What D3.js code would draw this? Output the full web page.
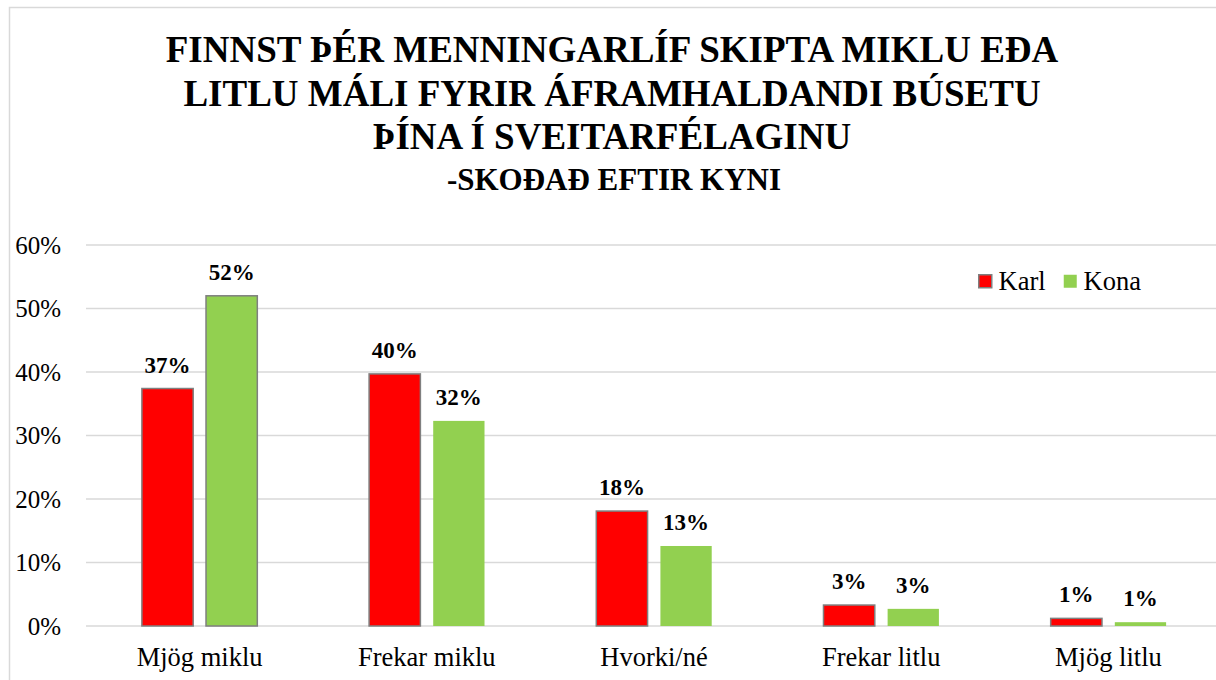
<!DOCTYPE html>
<html>
<head>
<meta charset="utf-8">
<script src="https://cdn.jsdelivr.net/npm/d3@7"></script>
<style>
  body { margin: 0; background: #fff; }
  text { font-family: 'Liberation Serif'; }
</style>
</head>
<body>
<svg id="chart" width="1216" height="680" style="font-family:'Liberation Serif'"></svg>
<script>
// answer categories and the share for each sex
var categories = ["Mjög miklu", "Frekar miklu", "Hvorki/né", "Frekar litlu", "Mjög litlu"];
var seriesNames = ["Karl", "Kona"];
var karl = [0.374, 0.397, 0.181, 0.033, 0.012];
var kona = [0.520, 0.323, 0.126, 0.027, 0.006];
var yTicks = [0, 0.1, 0.2, 0.3, 0.4, 0.5, 0.6];
var titleLines = [
  "FINNST ÞÉR MENNINGARLÍF SKIPTA MIKLU EÐA",
  "LITLU MÁLI FYRIR ÁFRAMHALDANDI BÚSETU",
  "ÞÍNA Í SVEITARFÉLAGINU"
];
var subTitle = "-SKOÐAÐ EFTIR KYNI";

var width = 1216,
    height = 680,
    margin = {top: 245, right: -6, bottom: 54, left: 86};

var serif = "'Liberation Serif'";
var colors = {Karl: "#ff0000", Kona: "#92d050"};

var data = categories.map((c, i) => ({cat: c, Karl: karl[i], Kona: kona[i]}));

var svg = d3.select("#chart");

// chart area border (right side runs off the picture)
svg.append("rect")
  .attr("x", 9.5).attr("y", 7.5)
  .attr("width", width + 20).attr("height", height + 20)
  .attr("fill", "none")
  .attr("stroke", "#d9d9d9")
  .attr("stroke-width", 1.5);

// title, one text per line
titleLines.forEach((t, i) => {
  svg.append("text")
    .attr("x", 612)
    .attr("y", 62 + i * 43.5)
    .attr("text-anchor", "middle")
    .style("font-family", serif)
    .style("font-weight", "bold")
    .style("font-size", "37px")
    .text(t);
});
svg.append("text")
  .attr("x", 614)
  .attr("y", 190)
  .attr("text-anchor", "middle")
  .style("font-family", serif)
  .style("font-weight", "bold")
  .style("font-size", "31px")
  .text(subTitle);

var x0 = d3.scaleBand()
  .domain(categories)
  .range([margin.left, width - margin.right]);
var x1 = d3.scaleBand()
  .domain(seriesNames)
  .range([x0.bandwidth() * 0.246, x0.bandwidth() * 0.754])
  .paddingInner(0.2);
var y = d3.scaleLinear()
  .domain([0, 0.6])
  .range([height - margin.bottom, margin.top]);

// gridlines
svg.append("g")
  .selectAll("line")
  .data(yTicks)
  .enter().append("line")
  .attr("x1", margin.left)
  .attr("x2", width)
  .attr("y1", d => y(d))
  .attr("y2", d => y(d))
  .attr("stroke", "#d9d9d9")
  .attr("stroke-width", 1.5);

// y axis labels
var yAxis = d3.axisLeft(y).tickValues(yTicks).tickFormat(d3.format(".0%")).tickSize(0).tickPadding(0);
svg.append("g")
  .attr("transform", "translate(61,0)")
  .call(yAxis)
  .attr("font-family", null)
  .call(g => g.select(".domain").remove())
  .selectAll("text")
  .style("font-family", serif)
  .style("font-size", "25px")
  .attr("fill", "#000");

// x axis labels
var xAxis = d3.axisBottom(x0).tickSize(0).tickPadding(0);
svg.append("g")
  .attr("transform", `translate(0,${y(0)})`)
  .call(xAxis)
  .attr("font-family", null)
  .call(g => g.select(".domain").remove())
  .selectAll("text")
  .attr("dy", null)
  .attr("y", 40)
  .style("font-family", serif)
  .style("font-size", "26.5px")
  .attr("fill", "#000");

var group = svg.selectAll(".cat")
  .data(data)
  .enter().append("g")
  .attr("class", "cat")
  .attr("transform", d => `translate(${x0(d.cat)},0)`);

group.selectAll("rect")
  .data(d => seriesNames.map(s => ({s: s, v: d[s], cat: d.cat})))
  .enter().append("rect")
  .attr("x", d => x1(d.s))
  .attr("y", d => y(d.v))
  .attr("width", x1.bandwidth())
  .attr("height", d => y(0) - y(d.v))
  .attr("fill", d => colors[d.s])
  .attr("stroke", d => (d.s == "Karl" || d.cat == categories[0]) ? "#7f7f7f" : "none")
  .attr("stroke-width", 1.5);

group.selectAll(".lbl")
  .data(d => seriesNames.map(s => ({s: s, v: d[s]})))
  .enter().append("text")
  .attr("class", "lbl")
  .attr("x", d => x1(d.s) + x1.bandwidth() / 2)
  .attr("y", d => y(d.v) - 16)
  .attr("text-anchor", "middle")
  .style("font-family", serif)
  .style("font-size", "23px")
  .style("font-weight", "bold")
  .text(d => d3.format(".0%")(d.v));

// legend
var legend = svg.append("g").attr("transform", "translate(978,274)");
var legX = [0, 85];
seriesNames.forEach((s, i) => {
  legend.append("rect")
    .attr("x", legX[i] + 0.75).attr("y", 0.75)
    .attr("width", 13).attr("height", 13)
    .attr("fill", colors[s])
    .attr("stroke", s == "Karl" ? "#7f7f7f" : "none")
    .attr("stroke-width", 1.5);
  legend.append("text")
    .attr("x", legX[i] + 20.5)
    .attr("y", 15.5)
    .style("font-family", serif)
    .style("font-size", "26.5px")
    .text(s);
});
</script>
</body>
</html>
